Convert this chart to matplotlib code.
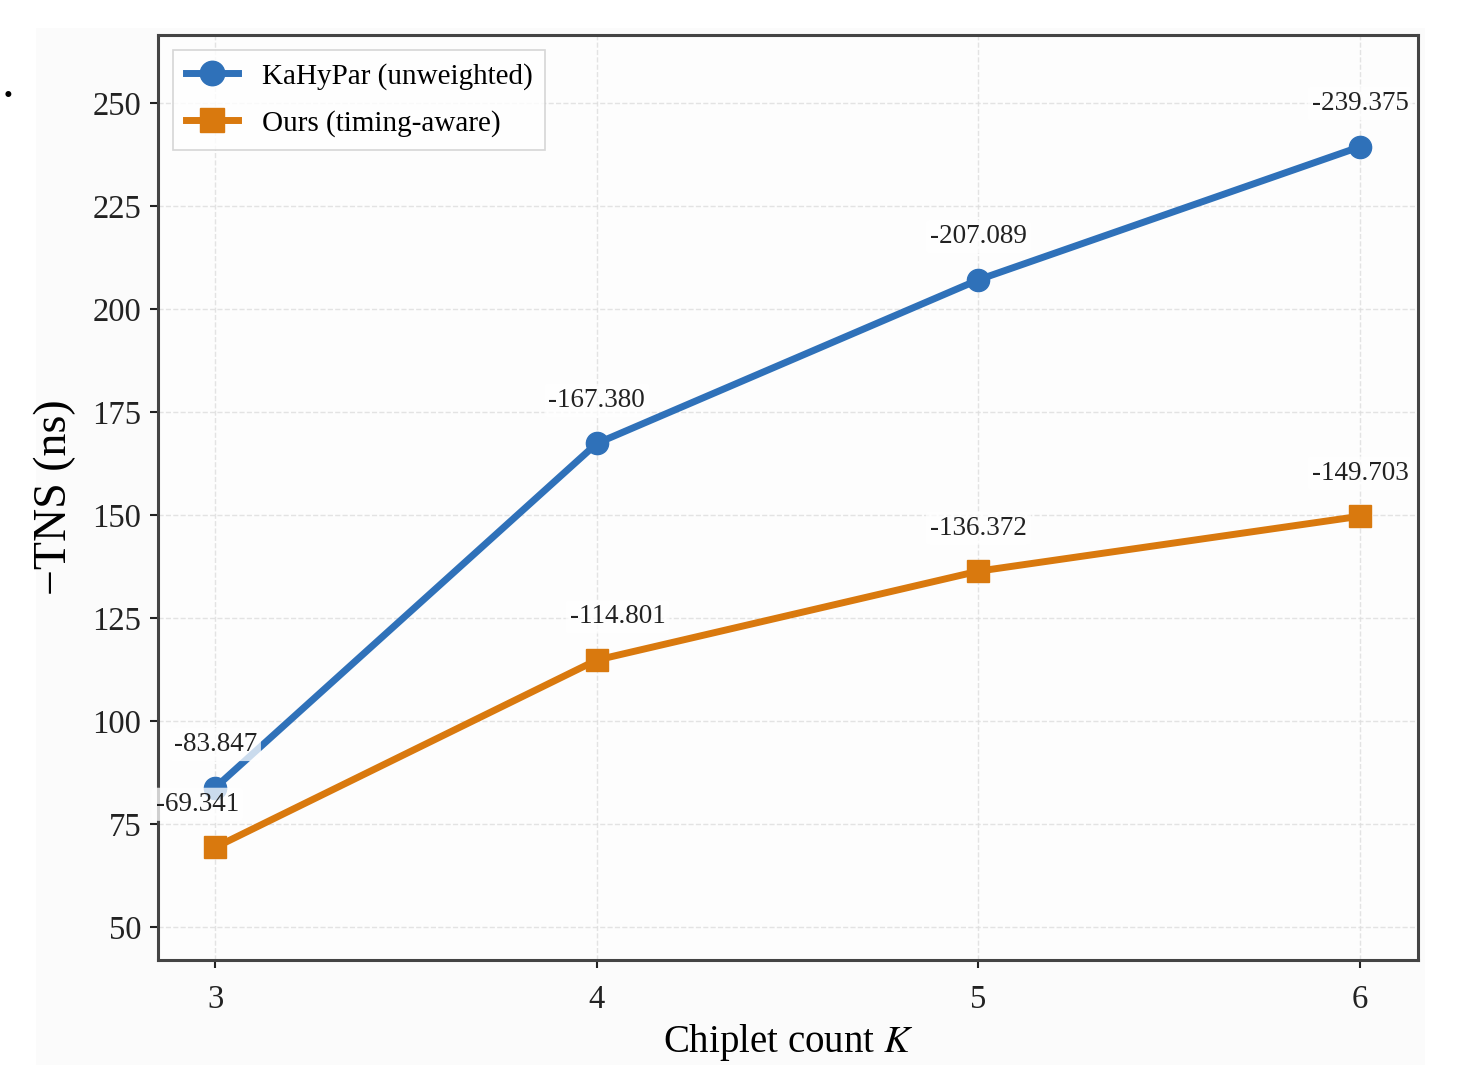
import numpy as np
import matplotlib.pyplot as plt
from matplotlib.patches import Rectangle

plt.rcParams['font.family'] = ['Liberation Serif', 'DejaVu Serif']
plt.rcParams['mathtext.fontset'] = 'stix'

# data
K = [3, 4, 5, 6]
kahypar = [83.847, 167.380, 207.089, 239.375]
ours = [69.341, 114.801, 136.372, 149.703]
yticks = [50, 75, 100, 125, 150, 175, 200, 225, 250]

blue = "#2f71b9"
orange = "#d9790e"

fig = plt.figure(figsize=(14.62, 10.65), dpi=100)
fig.patch.set_facecolor("white")
# faint grey page behind the plot
fig.patches.append(Rectangle((36/1462, 0), (1425-36)/1462, 1 - 28/1065,
                             transform=fig.transFigure, facecolor="#fbfbfb",
                             edgecolor="none", zorder=-10))
fig.text(8/1462, 1 - 97/1065, "•", fontsize=18, ha="center", va="center")

ax = fig.add_axes([158/1462, 1 - 960/1065, (1418-158)/1462, (960-35)/1065])
ax.set_facecolor("#fdfdfd")

ax.plot(K, kahypar, color=blue, lw=5, marker="o", ms=16, label="KaHyPar (unweighted)", zorder=3)
ax.plot(K, ours, color=orange, lw=5, marker="s", ms=16, label="Ours (timing-aware)", zorder=3)

# label offsets in points (a couple nudged sideways in the original)
off_blue = [(0, 31), (0, 31), (0, 31), (0, 31)]
off_ours = [(-13, 31), (15, 31), (0, 31), (0, 31)]
for k, v, o in zip(K, kahypar, off_blue):
    ax.annotate(f"-{v:.3f}", (k, v), xytext=o, textcoords="offset points",
                ha="center", va="center", fontsize=19.5, color="#222222", zorder=4,
                bbox=dict(boxstyle="round,pad=0.15", fc="white", ec="none", alpha=0.75))
for k, v, o in zip(K, ours, off_ours):
    ax.annotate(f"-{v:.3f}", (k, v), xytext=o, textcoords="offset points",
                ha="center", va="center", fontsize=19.5, color="#222222", zorder=4,
                bbox=dict(boxstyle="round,pad=0.15", fc="white", ec="none", alpha=0.75))

ax.set_xlim(2.85, 6.152)
ax.set_ylim(42, 266.5)
ax.set_xticks(K)
ax.set_yticks(yticks)
ax.tick_params(labelsize=23.5, length=6, width=1.5, colors="#222222")
ax.tick_params(axis="x", pad=12)
ax.tick_params(axis="y", pad=6)
ax.set_xlabel("Chiplet count $K$", fontsize=28, labelpad=5)
ax.set_ylabel("\u2212TNS (ns)", fontsize=33, labelpad=12)
ax.grid(True, ls="--", lw=1, color="#dddddd", alpha=0.8)
ax.set_axisbelow(True)
for s in ax.spines.values():
    s.set_color("#444444")
    s.set_linewidth(2.2)

leg = ax.legend(loc="upper left", fontsize=21, frameon=True, fancybox=False,
                handlelength=1.8, borderpad=0.45, labelspacing=0.7, markerscale=1.1)
leg.get_frame().set_edgecolor("#cccccc")
leg.get_frame().set_linewidth(1.2)

fig.savefig("out.png", dpi=100, facecolor=fig.get_facecolor())
